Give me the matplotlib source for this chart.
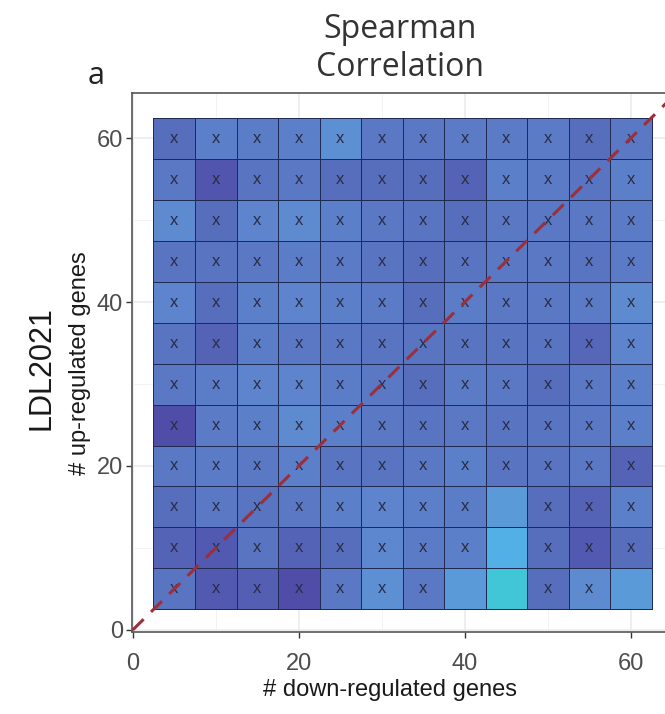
import numpy as np
import matplotlib.pyplot as plt
from matplotlib.colors import LinearSegmentedColormap

# gene-count bins on both axes (cell centres)
down_bins = [5, 10, 15, 20, 25, 30, 35, 40, 45, 50, 55, 60]
up_bins = [60, 55, 50, 45, 40, 35, 30, 25, 20, 15, 10, 5]   # rows listed top -> bottom

# correlation score per cell, rows follow up_bins
rho = [
    [0.25, 0.35, 0.33, 0.35, 0.45, 0.30, 0.30, 0.32, 0.32, 0.32, 0.25, 0.30],
    [0.30, 0.12, 0.28, 0.30, 0.25, 0.25, 0.25, 0.20, 0.35, 0.32, 0.28, 0.35],
    [0.42, 0.25, 0.38, 0.42, 0.35, 0.30, 0.28, 0.25, 0.30, 0.30, 0.30, 0.32],
    [0.28, 0.28, 0.30, 0.33, 0.32, 0.28, 0.25, 0.28, 0.30, 0.30, 0.28, 0.32],
    [0.38, 0.25, 0.35, 0.38, 0.35, 0.32, 0.25, 0.33, 0.30, 0.30, 0.32, 0.42],
    [0.28, 0.20, 0.33, 0.30, 0.30, 0.28, 0.28, 0.28, 0.28, 0.28, 0.22, 0.38],
    [0.30, 0.33, 0.38, 0.38, 0.33, 0.30, 0.25, 0.32, 0.30, 0.25, 0.30, 0.35],
    [0.05, 0.32, 0.35, 0.42, 0.35, 0.30, 0.28, 0.30, 0.28, 0.28, 0.30, 0.35],
    [0.30, 0.32, 0.30, 0.35, 0.28, 0.28, 0.30, 0.35, 0.28, 0.28, 0.30, 0.20],
    [0.25, 0.30, 0.28, 0.30, 0.35, 0.38, 0.35, 0.33, 0.50, 0.25, 0.20, 0.35],
    [0.20, 0.15, 0.28, 0.20, 0.25, 0.40, 0.32, 0.35, 0.65, 0.25, 0.15, 0.25],
    [0.28, 0.15, 0.18, 0.05, 0.30, 0.45, 0.30, 0.50, 1.00, 0.25, 0.42, 0.50],
]

# cells that are NOT crossed out (down, up)
blank_cells = [(45, 15), (45, 10), (40, 5), (45, 5), (60, 5)]

ticks = [0, 20, 40, 60]

plt.rcParams['font.family'] = ['Liberation Sans', 'DejaVu Sans']

cmap = LinearSegmentedColormap.from_list('spear', [
    (0.0, '#4e48a4'),
    (0.15, '#5259b0'),
    (0.3, '#5a78c4'),
    (0.42, '#5e8ad0'),
    (0.5, '#5b9ad8'),
    (0.65, '#52b0e6'),
    (1.0, '#40c6d6'),
])

fig = plt.figure(figsize=(6.65, 7.14), dpi=100)
W, H = 665, 714
ax = fig.add_axes([131.5 / W, (H - 632) / H, 545 / W, (632 - 93) / H])

# grid edges from bin centres
step = 5
xe = np.r_[np.array(down_bins) - step / 2, down_bins[-1] + step / 2]
yc = np.array(up_bins[::-1])
ye = np.r_[yc - step / 2, yc[-1] + step / 2]
Z = np.array(rho)[::-1]

ax.pcolormesh(xe, ye, Z, cmap=cmap, vmin=0, vmax=1,
              edgecolors='#1f2a55', linewidth=0.7, zorder=2)

for i, u in enumerate(up_bins):
    for j, d in enumerate(down_bins):
        if (d, u) in blank_cells:
            continue
        ax.text(d, u, 'x', ha='center', va='center', fontsize=12,
                color='#2a2d45', zorder=3)

ax.plot([0, 70], [0, 70], color='#9c2f3a', lw=2.2, dashes=(5, 3.4), zorder=4)

ax.set_xlim(-0.15, 65.5)
ax.set_ylim(-0.25, 65.5)
ax.set_xticks(ticks)
ax.set_yticks(ticks)
ax.set_xticks([10, 30, 50], minor=True)
ax.set_yticks([10, 30, 50], minor=True)
ax.grid(which='major', color='#ebebeb', lw=1.2, zorder=0)
ax.grid(which='minor', color='#f2f2f2', lw=0.7, zorder=0)
ax.set_axisbelow(True)
ax.tick_params(which='major', length=4, width=1, color='#333333',
               labelsize=17, labelcolor='#4d4d4d')
ax.tick_params(axis='y', pad=2)
ax.tick_params(axis='x', pad=11)
ax.tick_params(which='minor', length=0)
for s in ax.spines.values():
    s.set_color('#555555')
    s.set_linewidth(1.2)

fig.text(390 / W, 1 - 690 / H, '# down-regulated genes', ha='center', va='center',
         fontsize=17, color='#1a1a1a')
fig.text(80 / W, 1 - 363 / H, '# up-regulated genes', ha='center', va='center',
         rotation=90, fontsize=17, color='#1a1a1a')
fig.text(42 / W, 1 - 368 / H, 'LDL2021', ha='center', va='center',
         rotation=90, fontsize=22, color='#1a1a1a')

fig.text(400 / W, 1 - 30 / H, 'Spearman', ha='center', va='center',
         fontsize=23, color='#333333', family=['Open Sans', 'DejaVu Sans'])
fig.text(400 / W, 1 - 68 / H, 'Correlation', ha='center', va='center',
         fontsize=23, color='#333333', family=['Open Sans', 'DejaVu Sans'])
fig.text(96 / W, 1 - 76 / H, 'a', ha='center', va='center',
         fontsize=22, color='#222222', family=['Open Sans', 'DejaVu Sans'])

fig.savefig('out.png', dpi=100)
